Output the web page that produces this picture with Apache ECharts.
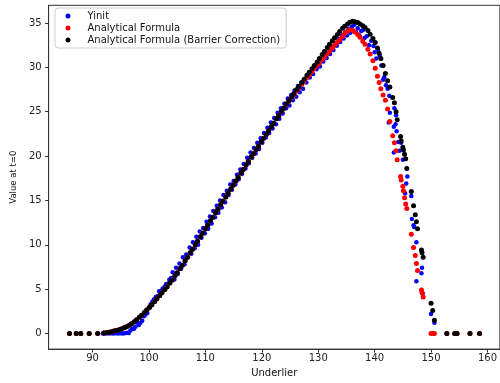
<!DOCTYPE html>
<html>
<head>
<meta charset="utf-8">
<script src="https://cdn.jsdelivr.net/npm/echarts@6/dist/echarts.min.js"></script>
<style>html,body{margin:0;padding:0;background:#fff}#c{width:500px;height:383px}</style>
</head>
<body>
<div id="c"></div>
<script>
// Underlier samples shared by both analytical series
const spotAF = [85.9, 87.1, 87.9, 89.4, 90.9, 92.0, 92.4, 92.9, 93.3, 93.8, 94.2, 94.7, 95.1, 95.6, 96.0, 96.5, 96.9, 97.4, 97.8, 98.3, 98.7, 99.2, 99.6, 100.1, 100.5, 101.0, 101.4, 101.9, 102.3, 102.8, 103.2, 103.7, 104.1, 104.6, 105.0, 105.5, 105.9, 106.4, 106.8, 107.3, 107.7, 108.2, 108.6, 109.1, 109.5, 110.0, 110.4, 110.9, 111.3, 111.8, 112.2, 112.7, 113.1, 113.6, 114.0, 114.5, 114.9, 115.4, 115.8, 116.3, 116.7, 117.2, 117.6, 118.1, 118.5, 119.0, 119.4, 119.9, 120.3, 120.8, 121.2, 121.7, 122.1, 122.6, 123.0, 123.5, 123.9, 124.4, 124.8, 125.3, 125.7, 126.2, 126.6, 127.1, 127.5, 128.0, 128.4, 128.9, 129.3, 129.8, 130.2, 130.7, 131.1, 131.6, 132.0, 132.5, 132.9, 133.4, 133.8, 134.3, 134.7, 135.2, 135.6, 136.1, 136.5, 137.0, 137.4, 137.9, 138.3, 138.8, 139.2, 139.7, 140.1, 140.5, 140.8, 141.1, 141.5, 141.9, 142.3, 142.7, 143.2, 143.5, 143.8, 144.0, 144.6, 144.7, 145.0, 145.1, 145.3, 145.5, 145.7, 146.5, 146.9, 147.2, 147.4, 147.6, 148.3, 148.4, 148.6, 150.0, 150.3, 150.6, 152.8, 154.2, 154.6, 156.9, 158.6];

// Analytical Formula (red)
const analytical = [0, 0, 0, 0, 0, 0.05, 0.08, 0.14, 0.19, 0.27, 0.33, 0.43, 0.52, 0.64, 0.75, 0.92, 1.1, 1.33, 1.55, 1.82, 2.07, 2.37, 2.64, 2.97, 3.25, 3.62, 3.92, 4.28, 4.58, 4.95, 5.27, 5.7, 6.04, 6.5, 6.85, 7.33, 7.7, 8.2, 8.6, 9.1, 9.5, 10.0, 10.4, 10.9, 11.3, 11.8, 12.2, 12.7, 13.1, 13.6, 14.0, 14.5, 14.9, 15.4, 15.8, 16.3, 16.7, 17.2, 17.6, 18.1, 18.5, 19.0, 19.4, 19.9, 20.25, 20.75, 21.1, 21.6, 22.0, 22.45, 22.85, 23.3, 23.7, 24.2, 24.55, 25.05, 25.4, 25.85, 26.2, 26.6, 26.95, 27.35, 27.7, 28.1, 28.45, 28.85, 29.15, 29.55, 29.85, 30.2, 30.5, 30.9, 31.2, 31.55, 31.85, 32.2, 32.5, 32.85, 33.1, 33.45, 33.85, 34.1, 34.25, 34.2, 34.0, 33.7, 33.4, 32.95, 32.6, 32.05, 31.5, 30.75, 29.9, 29.0, 28.3, 27.6, 26.9, 26.3, 25.3, 23.9, 22.3, 21.5, 20.6, 19.6, 17.7, 17.3, 16.6, 16.1, 15.3, 14.6, 14.1, 11.2, 9.7, 8.8, 7.9, 7.1, 4.9, 4.6, 4.1, 0, 0, 0, 0, 0, 0, 0, 0];

// Analytical Formula (Barrier Correction) (black)
const analyticalBarrier = [0, 0, 0, 0, 0, 0.05, 0.08, 0.14, 0.19, 0.27, 0.33, 0.43, 0.52, 0.64, 0.75, 0.92, 1.1, 1.33, 1.55, 1.82, 2.07, 2.37, 2.64, 2.97, 3.25, 3.62, 3.92, 4.28, 4.58, 4.95, 5.27, 5.7, 6.04, 6.5, 6.85, 7.33, 7.7, 8.2, 8.6, 9.1, 9.5, 10.0, 10.4, 10.9, 11.3, 11.8, 12.2, 12.7, 13.1, 13.6, 14.0, 14.5, 14.9, 15.4, 15.8, 16.3, 16.7, 17.2, 17.6, 18.1, 18.5, 19.0, 19.4, 19.9, 20.25, 20.75, 21.1, 21.6, 22.0, 22.45, 22.85, 23.3, 23.7, 24.2, 24.55, 25.05, 25.4, 25.9, 26.25, 26.7, 27.05, 27.5, 27.85, 28.3, 28.65, 29.1, 29.45, 29.85, 30.2, 30.6, 31.0, 31.45, 31.8, 32.25, 32.6, 33.0, 33.35, 33.7, 34.05, 34.4, 34.65, 34.9, 35.1, 35.2, 35.15, 35.05, 34.9, 34.7, 34.5, 34.15, 33.75, 33.25, 32.8, 32.2, 31.6, 31.0, 30.2, 29.3, 28.5, 27.8, 26.6, 26.0, 25.0, 24.1, 22.2, 21.7, 21.0, 20.7, 20.2, 19.7, 18.6, 16.0, 14.4, 13.4, 12.6, 11.8, 9.4, 9.1, 8.6, 3.4, 2.6, 1.5, 0, 0, 0, 0, 0];

// Yinit (blue)
const spotYinit = [91.8, 92.2, 92.6, 93.0, 93.4, 93.7, 94.1, 94.5, 94.9, 95.3, 95.7, 96.1, 96.4, 96.7, 97.0, 97.3, 97.6, 97.9, 98.2, 98.5, 98.8, 99.1, 99.4, 99.7, 100.0, 100.3, 100.6, 100.9, 101.2, 101.5, 101.8, 102.1, 102.4, 102.7, 103.0, 103.3, 103.6, 103.9, 104.2, 104.5, 104.8, 105.1, 105.4, 105.7, 106.0, 106.3, 106.6, 106.9, 107.2, 107.5, 107.8, 108.1, 108.4, 108.7, 109.0, 109.3, 109.6, 109.9, 110.2, 110.5, 110.8, 111.1, 111.4, 111.7, 112.0, 112.3, 112.6, 112.9, 113.2, 113.5, 113.8, 114.1, 114.4, 114.7, 115.0, 115.3, 115.6, 115.9, 116.2, 116.5, 116.8, 117.1, 117.4, 117.7, 118.0, 118.3, 118.6, 118.9, 119.2, 119.5, 119.8, 120.1, 120.4, 120.7, 121.0, 121.3, 121.6, 121.9, 122.2, 122.5, 122.8, 123.1, 123.4, 123.7, 124.0, 124.3, 124.6, 124.9, 125.2, 125.5, 125.8, 126.1, 126.4, 126.7, 127.0, 127.3, 127.6, 127.9, 128.2, 128.5, 128.8, 129.1, 129.4, 129.7, 130.0, 130.3, 130.6, 130.9, 131.2, 131.5, 131.8, 132.1, 132.4, 132.7, 133.0, 133.3, 133.6, 133.9, 134.2, 134.5, 134.8, 135.1, 135.4, 135.7, 136.0, 136.4, 136.7, 137.0, 137.3, 137.6, 137.9, 138.2, 138.6, 139.0, 139.4, 139.8, 140.0, 140.3, 140.6, 140.9, 141.2, 141.5, 141.7, 142.0, 142.3, 142.5, 142.6, 142.7, 143.4, 143.4, 143.5, 143.7, 143.8, 143.9, 144.2, 144.4, 144.7, 145.0, 145.4, 145.6, 145.8, 146.5, 146.6, 146.9, 147.0, 147.4, 147.4, 148.3, 148.4, 148.5, 150.0, 150.6];
const yinit = [0.0, 0.0, 0.02, 0.0, 0.03, 0.0, 0.02, 0.0, 0.04, 0.0, 0.03, 0.08, 0.05, 0.35, 0.55, 0.5, 0.75, 1.25, 0.95, 1.2, 1.45, 1.95, 2.15, 2.3, 2.85, 3.3, 3.6, 3.85, 4.1, 4.2, 4.75, 4.7, 5.05, 5.2, 5.55, 5.6, 6.05, 6.25, 6.9, 6.1, 7.4, 6.7, 7.9, 7.3, 8.6, 7.8, 8.9, 8.6, 9.7, 9.0, 10.3, 9.6, 10.9, 10.0, 11.5, 10.8, 11.9, 11.3, 12.6, 11.8, 13.2, 12.4, 13.8, 13.1, 14.4, 13.6, 15.0, 14.2, 15.6, 14.8, 16.1, 15.6, 16.8, 16.2, 17.2, 16.8, 17.9, 17.4, 18.5, 18.0, 19.1, 18.6, 19.8, 19.2, 20.4, 19.8, 20.9, 20.3, 21.5, 20.8, 22.0, 21.5, 22.6, 22.1, 23.2, 22.6, 23.8, 23.1, 24.3, 23.6, 24.9, 24.2, 25.4, 24.8, 25.9, 25.4, 26.5, 25.7, 26.9, 26.3, 27.4, 26.7, 27.9, 27.2, 28.3, 27.6, 28.6, 28.3, 29.1, 28.85, 29.55, 29.25, 30.0, 29.8, 30.45, 30.1, 30.95, 30.65, 31.35, 31.05, 31.8, 31.5, 32.25, 31.95, 32.7, 32.45, 33.2, 32.85, 33.6, 33.25, 33.95, 33.6, 34.35, 33.9, 34.6, 34.8, 34.0, 34.4, 33.6, 34.1, 34.2, 33.3, 33.5, 32.5, 33.0, 32.4, 31.7, 31.0, 32.0, 31.3, 30.2, 28.6, 28.9, 28.0, 27.6, 23.8, 26.8, 24.9, 23.3, 20.4, 25.4, 23.6, 24.6, 22.8, 21.6, 20.6, 21.5, 19.6, 15.8, 16.9, 17.7, 15.5, 12.9, 12.2, 12.0, 10.3, 5.9, 6.8, 7.4, 4.5, 2.2, 1.2];

const xTicks = [90, 100, 110, 120, 130, 140, 150, 160];
const yTicks = [0, 5, 10, 15, 20, 25, 30, 35];

const pairs = (xs, ys) => xs.map((x, i) => [x, ys[i]]);
const FONT = 'DejaVu Sans';

const chart = echarts.init(document.getElementById('c'), null, {renderer: 'canvas'});
chart.setOption({
  animation: false,
  backgroundColor: '#ffffff',
  grid: {left: 48.6, right: -0.6, top: 5.3, bottom: 28.9, show: true, borderColor: '#333', borderWidth: 1, backgroundColor: 'transparent'},
  legend: {
    left: 55, top: 8, orient: 'vertical',
    padding: [2, 6, 2, 10.5],
    itemGap: 0, itemWidth: 5, itemHeight: 5,
    backgroundColor: 'rgba(255,255,255,0.8)', borderColor: '#cccccc', borderWidth: 1, borderRadius: 3,
    textStyle: {fontFamily: FONT, fontSize: 10, lineHeight: 12, color: '#111', padding: [0, 0, 0, 12]},
    data: [
      {name: 'Yinit', icon: 'circle'},
      {name: 'Analytical Formula', icon: 'circle'},
      {name: 'Analytical Formula (Barrier Correction)', icon: 'circle'}
    ]
  },
  xAxis: {
    type: 'value', min: 82.2, max: 162.2,
    name: 'Underlier', nameLocation: 'middle', nameGap: 16,
    nameTextStyle: {fontFamily: FONT, fontSize: 10, color: '#111'},
    axisLine: {show: true, onZero: false, lineStyle: {color: '#333', width: 1}},
    axisTick: {show: true, inside: false, length: 3.5, customValues: xTicks, lineStyle: {color: '#333'}},
    axisLabel: {customValues: xTicks, margin: 4, fontFamily: FONT, fontSize: 10, color: '#222'},
    splitLine: {show: false}
  },
  yAxis: {
    type: 'value', min: -1.76, max: 37.0,
    name: 'Value at t=0', nameLocation: 'middle', nameRotate: 90, nameGap: 23,
    nameTextStyle: {fontFamily: FONT, fontSize: 8.5, color: '#111'},
    axisLine: {show: true, onZero: false, lineStyle: {color: '#333', width: 1}},
    axisTick: {show: true, inside: false, length: 3.5, customValues: yTicks, lineStyle: {color: '#333'}},
    axisLabel: {customValues: yTicks, margin: 7, fontFamily: FONT, fontSize: 10, color: '#222'},
    splitLine: {show: false}
  },
  series: [
    {name: 'Yinit', type: 'scatter', symbol: 'circle', symbolSize: 4.5, itemStyle: {color: '#0000ff', opacity: 1}, data: pairs(spotYinit, yinit), z: 2},
    {name: 'Analytical Formula', type: 'scatter', symbol: 'circle', symbolSize: 5, itemStyle: {color: '#ff0000', opacity: 1}, data: pairs(spotAF, analytical), z: 3},
    {name: 'Analytical Formula (Barrier Correction)', type: 'scatter', symbol: 'circle', symbolSize: 5, itemStyle: {color: '#000000', opacity: 1}, data: pairs(spotAF, analyticalBarrier), z: 4}
  ]
});
</script>
</body>
</html>
